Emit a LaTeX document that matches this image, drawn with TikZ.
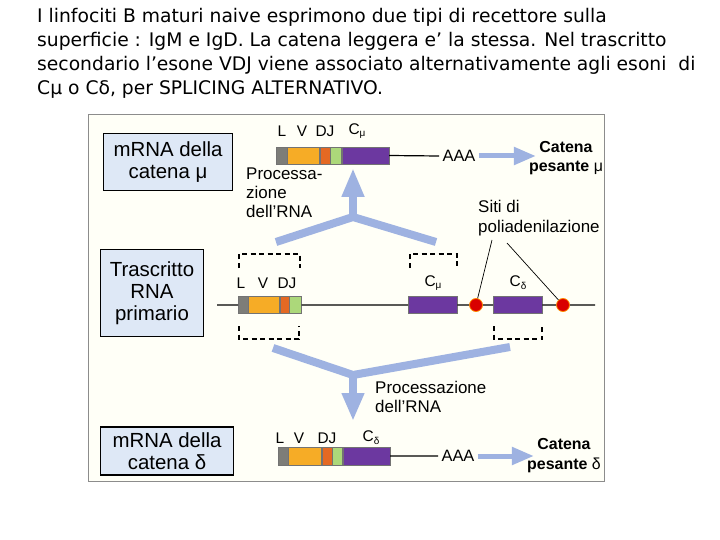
\documentclass[tikz,border=0pt]{standalone}
\usepackage{fontspec}
\setmainfont{Liberation Sans}
\newfontfamily\titlefont{DejaVu Sans}
\usetikzlibrary{arrows.meta, positioning}

\newcommand{\lowidx}[1]{\raisebox{-0.35ex}{\fontsize{10}{10}\selectfont #1}}

\begin{document}
\begin{tikzpicture}[x=1bp, y=-1bp, font=\fontsize{15.5}{17}\selectfont]
        % Setup the styles
        \tikzset{box style/.style={draw=black,
                                   line width=1.3bp,
                                   fill=celeste,
                                   align=center,
                                   inner sep=0pt,
                                   font=\fontsize{20.5}{22}\selectfont}}
        \tikzset{exon style/.style={rectangle,
                                    draw=black!55,
                                    line width=0.4bp,
                                    inner sep=0pt,
                                    minimum height=17bp,
                                    anchor=west}}
        \tikzset{dot style/.style={circle,
                                   draw=orange!90!yellow,
                                   line width=0.8bp,
                                   fill=red!85!black,
                                   minimum size=13bp,
                                   inner sep=0pt}}
        \tikzset{bracket style/.style={draw=black,
                                       line width=2bp,
                                       dash pattern=on 5bp off 3.5bp}}
        \tikzset{fat arrow/.style={line width=8bp,
                                   color=azzurro}}
        \tikzset{thin arrow/.style={draw=azzurro,
                                    line width=5bp,
                                    -{Triangle[width=17bp,length=22bp]}}}
        \definecolor{azzurro}{RGB}{158,178,225}
        \definecolor{celeste}{RGB}{222,232,246}
        \definecolor{grigio}{RGB}{125,125,120}
        \definecolor{arancio}{RGB}{246,172,38}
        \definecolor{arancioscuro}{RGB}{228,105,35}
        \definecolor{verde}{RGB}{172,216,122}
        \definecolor{viola}{RGB}{108,56,160}

        \useasboundingbox (0,0) rectangle (720,540);
        \fill[white] (0,0) rectangle (720,540);

        % Title text
        \node[anchor=north west, align=left, inner sep=0pt,
              font=\titlefont\fontsize{18.8}{24}\selectfont] (titolo) at (37,8)
              {I linfociti B maturi naive esprimono due tipi di recettore sulla\\
               superficie : IgM e IgD. La catena leggera e’ la stessa. Nel trascritto\\
               secondario l’esone VDJ viene associato alternativamente agli esoni\ \ di\\
               Cμ o Cδ, per SPLICING ALTERNATIVO.};

        % Frame of the figure
        \draw[black!45, line width=1bp, fill=yellow!3!white] (88,115) rectangle (604,481);

        % Boxes on the left
        \node[box style, minimum width=129bp, minimum height=57bp] at (168,162) (mrnamu)
              {mRNA della\\catena μ};
        \node[box style, minimum width=103bp, minimum height=87bp] at (152,293) (trascritto)
              {Trascritto\\RNA\\primario};
        \node[box style, minimum width=133bp, minimum height=48bp] at (167,451) (mrnadelta)
              {mRNA della\\catena δ};

        % mRNA of the mu chain
        \node[exon style, fill=grigio, minimum width=11bp] at (276,155.5) (Lmu) {};
        \node[exon style, fill=arancio, minimum width=32bp, right=0pt of Lmu] (Vmu) {};
        \node[exon style, fill=arancioscuro, minimum width=10bp, right=0pt of Vmu] (Dmu) {};
        \node[exon style, fill=verde, minimum width=11bp, right=0pt of Dmu] (Jmu) {};
        \node[exon style, fill=viola, minimum width=47bp, right=0pt of Jmu] (Cmu) {};
        \coordinate (aaamu) at (439,156);
        \node[font=\fontsize{16.5}{18}\selectfont] at (459,156) (polyAmu) {AAA};
        \node[font=\bfseries\fontsize{16}{17}\selectfont] at (566,147) (catenamu) {Catena};
        \node[font=\fontsize{16}{17}\selectfont, below=1bp of catenamu.south, anchor=north]
              (pesantemu) {\textbf{pesante} μ};
        \node at (282,131) {L};
        \node at (302,131) {V};
        \node at (325,131) {DJ};
        \node at (357,131) {C\lowidx{μ}};

        % Primary transcript
        \coordinate (inizio) at (217,305);
        \coordinate (fine) at (595,305);
        \node[exon style, fill=grigio, minimum width=10bp] at (238,305) (Lp) {};
        \node[exon style, fill=arancio, minimum width=31bp, right=0pt of Lp] (Vp) {};
        \node[exon style, fill=arancioscuro, minimum width=9bp, right=0pt of Vp] (Dp) {};
        \node[exon style, fill=verde, minimum width=12bp, right=0pt of Dp] (Jp) {};
        \node[exon style, fill=viola, minimum width=49bp] at (408,305) (Cmup) {};
        \node[dot style] at (476,305) (sito1) {};
        \node[exon style, fill=viola, minimum width=49bp] at (493,305) (Cdeltap) {};
        \node[dot style] at (563,305) (sito2) {};
        \node at (241,283) {L};
        \node at (263,283) {V};
        \node at (287,283) {DJ};
        \node at (433,283) {C\lowidx{μ}};
        \node at (518,283) {C\lowidx{δ}};

        % Dashed brackets
        \draw[bracket style] (239,268) -- (239,254) -- (300,254) -- (300,268);
        \draw[bracket style] (410,268) -- (410,254) -- (457,254) -- (457,268);
        \draw[bracket style] (239,326) -- (239,339) -- (299,339) -- (299,326);
        \draw[bracket style] (494,326) -- (494,339) -- (542,339) -- (542,326);

        % Polyadenylation sites
        \node[anchor=north west, align=left, inner sep=0pt,
              font=\fontsize{17}{20}\selectfont] at (478,200) (siti)
              {Siti di\\poliadenilazione};
        \coordinate (sitoA) at (492,240);
        \coordinate (sitoB) at (507,243);

        % mRNA of the delta chain
        \node[exon style, fill=grigio, minimum width=10bp, minimum height=18bp] at (278,456) (Ld) {};
        \node[exon style, fill=arancio, minimum width=33bp, minimum height=18bp, right=0pt of Ld] (Vd) {};
        \node[exon style, fill=arancioscuro, minimum width=10bp, minimum height=18bp, right=0pt of Vd] (Dd) {};
        \node[exon style, fill=verde, minimum width=10bp, minimum height=18bp, right=0pt of Dd] (Jd) {};
        \node[exon style, fill=viola, minimum width=47bp, minimum height=18bp, right=0pt of Jd] (Cd) {};
        \coordinate (aaad) at (438,456);
        \node[font=\fontsize{16.5}{18}\selectfont] at (458,456) (polyAd) {AAA};
        \node[font=\bfseries\fontsize{16}{17}\selectfont] at (564,444) (catenad) {Catena};
        \node[font=\fontsize{16}{17}\selectfont, below=1bp of catenad.south, anchor=north]
              (pesanted) {\textbf{pesante} δ};
        \node at (280,438) {L};
        \node at (299,438) {V};
        \node at (327,438) {DJ};
        \node at (371,438) {C\lowidx{δ}};

        % Processing labels
        \node[anchor=north west, align=left, inner sep=0pt,
              font=\fontsize{17}{19}\selectfont] at (246,168) (proc1)
              {Processa-\\zione\\dell’RNA};
        \node[anchor=north west, align=left, inner sep=0pt,
              font=\fontsize{17}{19}\selectfont] at (375,381) (proc2)
              {Processazione\\dell’RNA};

        % Coordinates of the big arrows
        \coordinate (puntasu) at (353,168);
        \coordinate (nodosu) at (353,217);
        \coordinate (ramoA) at (276,242);
        \coordinate (ramoB) at (436,242);
        \coordinate (ramoC) at (273,348);
        \coordinate (ramoD) at (510,347);
        \coordinate (nodogiu) at (353,375);
        \coordinate (puntagiu) at (353,421);

        % Connect everything
        \draw[line width=1.2bp]
            (Cmu.east) -- (aaamu)
            (inizio) -- (Lp.west)
            (Jp.east) -- (Cmup.west)
            (Cmup.east) -- (sito1)
            (sito1) -- (Cdeltap.west)
            (Cdeltap.east) -- (sito2)
            (sito2) -- (fine)
            (Cd.east) -- (aaad);
        \draw[line width=0.7bp] (sitoA) -- (sito1);
        \draw[line width=0.7bp] (sitoB) -- (sito2);
        \draw[fat arrow, line join=miter] (ramoA) -- (nodosu) -- (ramoB);
        \draw[fat arrow, -{Triangle[width=21bp,length=29bp]}] (nodosu) -- (puntasu);
        \draw[fat arrow, line join=miter] (ramoC) -- (nodogiu) -- (ramoD);
        \draw[fat arrow, -{Triangle[width=21bp,length=28bp]}] (nodogiu) -- (puntagiu);
        \draw[thin arrow] (polyAmu.east) -- (catenamu.west |- polyAmu);
        \draw[thin arrow] (polyAd.east) -- (catenad.west |- polyAd);
\end{tikzpicture}
\end{document}
